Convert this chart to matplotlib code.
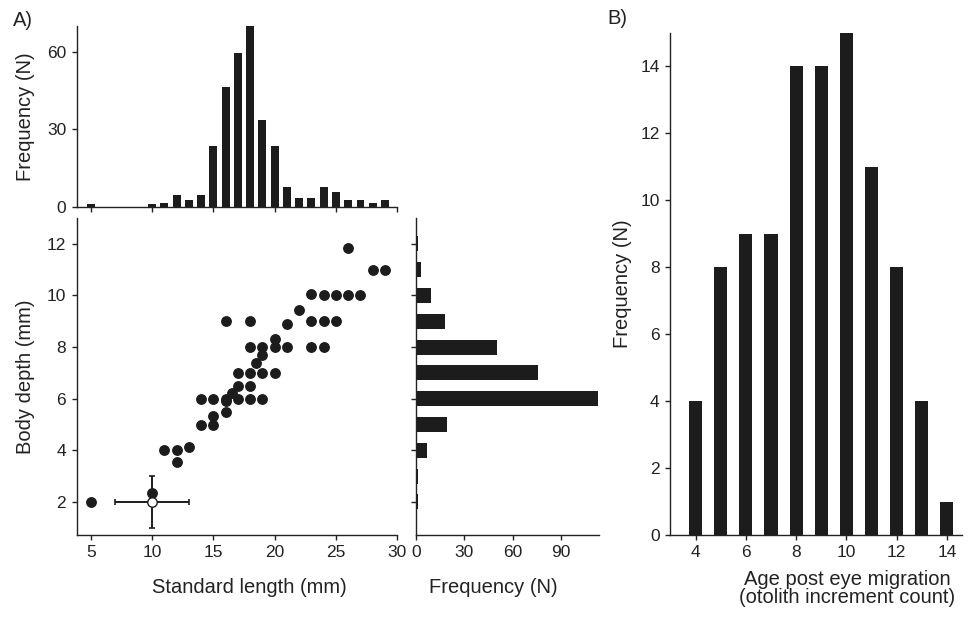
import numpy as np
import matplotlib
matplotlib.use("Agg")
import matplotlib.pyplot as plt

plt.rcParams['font.family'] = ['Liberation Sans', 'DejaVu Sans']

# standard length histogram (top)
sl_bins = [5, 10, 11, 12, 13, 14, 15, 16, 17, 18, 19, 20, 21, 22, 23, 24, 25, 26, 27, 28, 29]
sl_freq = [1, 1, 1.5, 4.5, 2.5, 4.5, 23.5, 46.5, 59.5, 70, 33.5, 23.5, 7.5, 3.5, 3.5, 7.5, 5.5, 2.5, 2.5, 1.5, 2.5]

# body depth histogram (right)
bd_bins = [2, 3, 4, 5, 6, 7, 8, 9, 10, 11, 12]
bd_freq = [1, 1, 7, 19, 113, 76, 50, 18, 9, 3, 1]

# scatter: standard length vs body depth
sl_pts = [5, 10, 11, 12, 12, 13, 14, 14, 15, 15, 15, 16, 16, 16, 16, 16.5, 17, 17, 17,
          18, 18, 18, 18, 18, 18.5, 19, 19, 19, 19, 20, 20, 20, 21, 21, 22,
          23, 23, 23, 24, 24, 24, 25, 25, 26, 26, 27, 28, 29]
bd_pts = [2, 2.35, 4, 4, 3.53, 4.14, 6, 5, 6, 5, 5.33, 9, 6, 5.9, 5.5, 6.23, 7, 6.5, 6,
          9, 8, 7, 6.5, 6, 7.4, 7.7, 8, 7, 6, 8.3, 8, 7, 8.88, 8, 9.45,
          10.05, 9, 8, 10, 9, 8, 10, 9, 10, 11.85, 10, 11, 11]

# mean +/- range at metamorphosis
mean_sl, mean_bd = 10, 2
err_sl, err_bd = 3, 1

# panel B: age post eye migration
age = [4, 5, 6, 7, 8, 9, 10, 11, 12, 13, 14]
age_freq = [4, 8, 9, 9, 14, 14, 15, 11, 8, 4, 1]

bar_col = '#1c1c1c'
txt_col = '#222222'
fs = 12.5
lfs = 14.5

fig = plt.figure(figsize=(9.68, 6.17), dpi=100)

ax_top = fig.add_axes([0.0792, 0.665, 0.3312, 0.2929])
ax_sc = fig.add_axes([0.0792, 0.1329, 0.3312, 0.5138])
ax_rt = fig.add_axes([0.4298, 0.1329, 0.189, 0.5138])
ax_b = fig.add_axes([0.6921, 0.1329, 0.3017, 0.8136])

for ax in [ax_top, ax_sc, ax_rt, ax_b]:
    ax.spines['top'].set_visible(False)
    ax.spines['right'].set_visible(False)
    for s in ['left', 'bottom']:
        ax.spines[s].set_color(txt_col)
        ax.spines[s].set_linewidth(1.0)
    ax.tick_params(direction='out', length=3.5, width=1, colors=txt_col,
                   labelsize=fs, labelcolor=txt_col, pad=4)

# top histogram
ax_top.bar(sl_bins, sl_freq, width=0.65, color=bar_col)
ax_top.set_xlim(3.85, 30)
ax_top.set_ylim(0, 70)
ax_top.set_xticks([5, 10, 15, 20, 25, 30])
ax_top.set_xticklabels([])
ax_top.set_yticks([0, 30, 60])
ax_top.set_ylabel('Frequency (N)', fontsize=lfs, color=txt_col)
ax_top.yaxis.set_label_coords(-0.161, 0.5)

# scatter
ax_sc.plot(sl_pts, bd_pts, 'o', color=bar_col, markersize=6.8, mec=bar_col)
ax_sc.errorbar(mean_sl, mean_bd, xerr=err_sl, yerr=err_bd, fmt='o', color=bar_col,
               mfc='white', mec=bar_col, markersize=6.8, elinewidth=1.4, capsize=2.5,
               capthick=1.2, zorder=3)
ax_sc.set_xlim(3.85, 30)
ax_sc.set_ylim(0.72, 13)
ax_sc.set_xticks([5, 10, 15, 20, 25, 30])
ax_sc.set_yticks([2, 4, 6, 8, 10, 12])
ax_sc.set_xlabel('Standard length (mm)', fontsize=lfs, color=txt_col)
ax_sc.set_ylabel('Body depth (mm)', fontsize=lfs, color=txt_col)
ax_sc.xaxis.set_label_coords(0.539, -0.167)
ax_sc.yaxis.set_label_coords(-0.161, 0.5)

# right histogram
ax_rt.barh(bd_bins, bd_freq, height=0.58, color=bar_col)
ax_rt.set_ylim(0.72, 13)
ax_rt.set_xlim(0, 113.7)
ax_rt.set_yticks([2, 4, 6, 8, 10, 12])
ax_rt.set_yticklabels([])
ax_rt.set_xticks([0, 30, 60, 90])
ax_rt.set_xlabel('Frequency (N)', fontsize=lfs, color=txt_col)
ax_rt.xaxis.set_label_coords(0.42, -0.167)

# panel B
ax_b.bar(age, age_freq, width=0.52, color=bar_col)
ax_b.set_xlim(2.98, 14.6)
ax_b.set_ylim(0, 15)
ax_b.set_xticks([4, 6, 8, 10, 12, 14])
ax_b.set_yticks([0, 2, 4, 6, 8, 10, 12, 14])
ax_b.set_xlabel('Age post eye migration\n(otolith increment count)', fontsize=lfs,
                color=txt_col, linespacing=0.95)
ax_b.set_ylabel('Frequency (N)', fontsize=lfs, color=txt_col)
ax_b.xaxis.set_label_coords(0.606, -0.106)
ax_b.yaxis.set_label_coords(-0.164, 0.5)

for ax in [ax_top, ax_sc, ax_rt, ax_b]:
    ax.xaxis.label.set_va('center')
    ax.yaxis.label.set_va('center')

fig.text(0.013, 0.967, 'A)', fontsize=lfs, color=txt_col, va='center')
fig.text(0.627, 0.970, 'B)', fontsize=lfs, color=txt_col, va='center')

fig.savefig('out.png', dpi=100)
